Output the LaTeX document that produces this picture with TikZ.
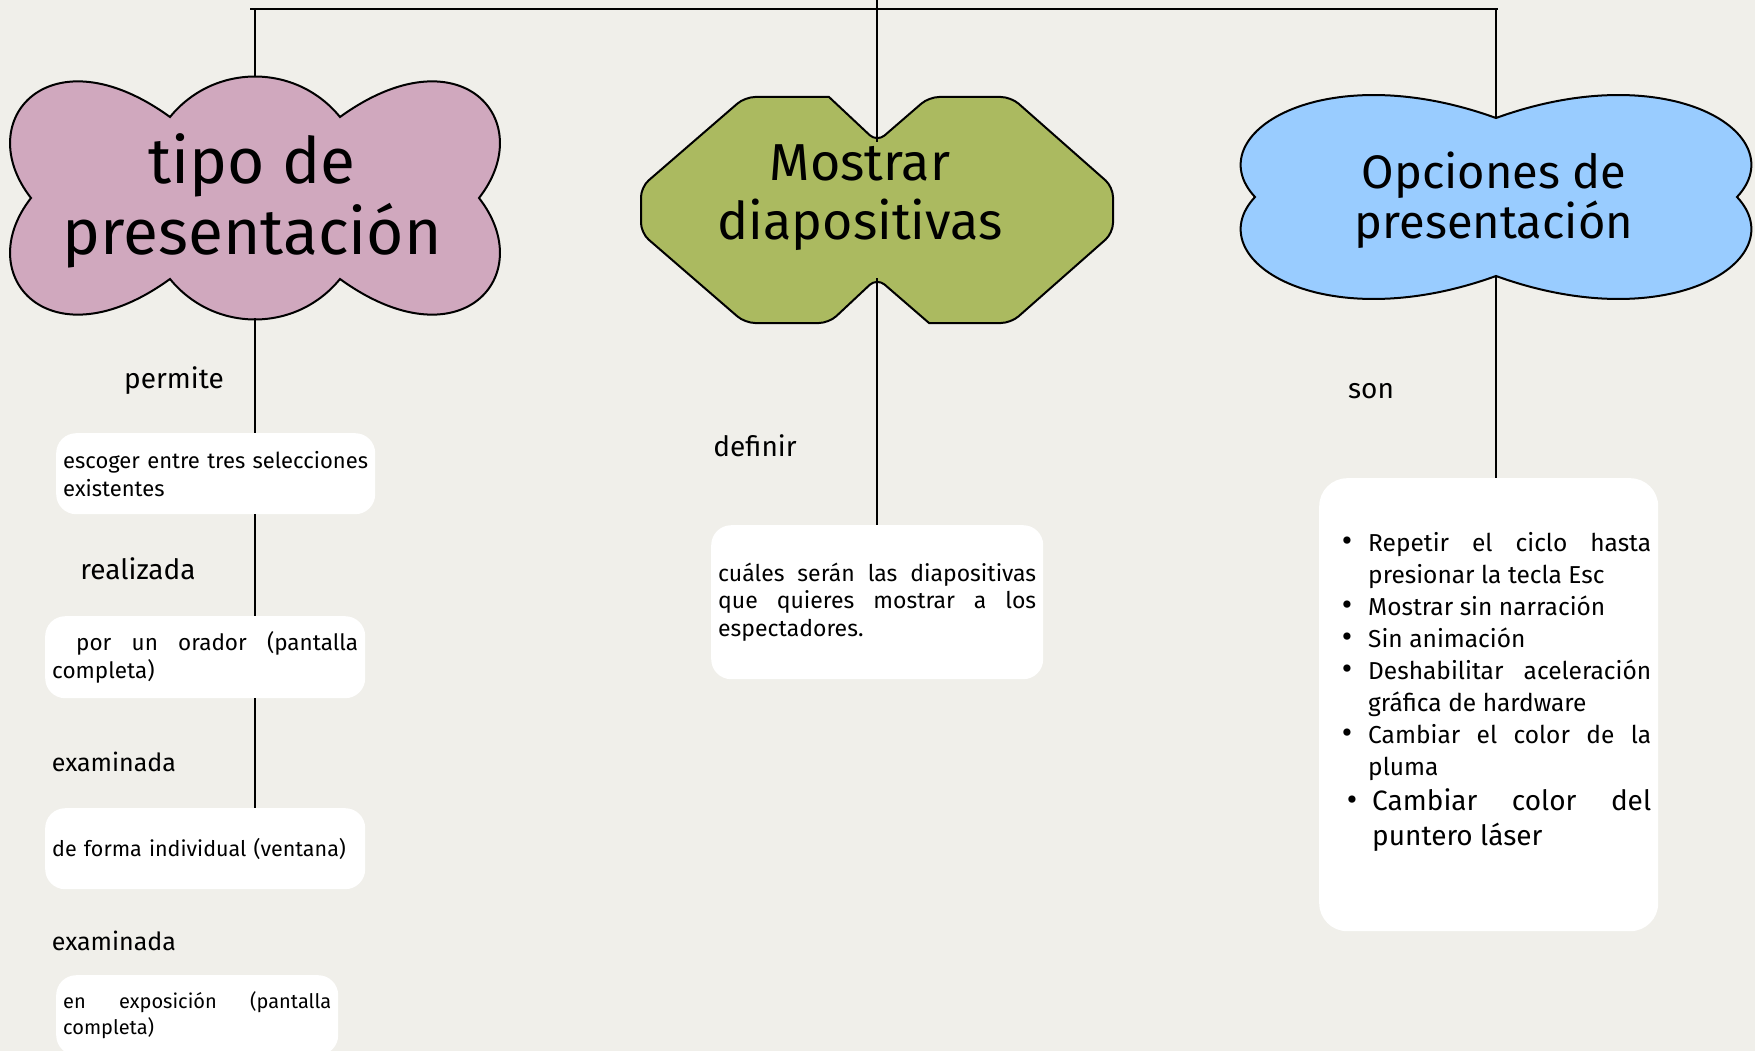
\documentclass[tikz,border=0pt]{standalone}
\usepackage{fontspec}
\setmainfont{Fira Sans}
\definecolor{paper}{HTML}{F0EFEA}
\definecolor{cloudpink}{HTML}{D0A8BE}
\definecolor{shapegreen}{HTML}{ABBA60}
\definecolor{cloudblue}{HTML}{99CCFF}
\hyphenpenalty=10000
\exhyphenpenalty=10000
\newcommand{\dotitem}[1]{\leavevmode\llap{{\fontsize{32}{32}\selectfont\textbullet}\hspace{#1}}}
\begin{document}
\begin{tikzpicture}
      [
      x=1pt, y=-1pt,
      card/.style={fill=white,rounded corners=20pt,inner xsep=7pt,inner ysep=3pt,anchor=north west},
      word/.style={anchor=base,inner sep=0pt},
      link/.style={line width=1.6pt},
      blob/.style={draw,line width=2pt}
      ]
      \fill[paper] (0,0) rectangle (1755,1051);
      \clip (0,0) rectangle (1755,1051);
      % three heads
      \draw[blob,fill=cloudpink] (31,198) .. controls (-30,120) and (50,30) .. (170,117)
        .. controls (214,63) and (296,63) .. (340,117)
        .. controls (460,30) and (540,120) .. (479,198)
        .. controls (540,276) and (460,366) .. (340,279)
        .. controls (296,333) and (214,333) .. (170,279)
        .. controls (50,366) and (-30,276) .. cycle;
      \draw[blob,fill=shapegreen] (641,210) [rounded corners=10pt] -- (641,233) -- (745,323) -- (829,323)
        -- (877,278) [sharp corners] -- (929,323) [rounded corners=10pt] -- (1011,323) -- (1113,233)
        -- (1113,187) -- (1011,97) -- (929,97) -- (877,142) [sharp corners] -- (829,97)
        [rounded corners=10pt] -- (745,97) -- (641,187) -- cycle;
      \draw[blob,fill=cloudblue] (1255,197) .. controls (1197,135) and (1322,55) .. (1496,118)
        .. controls (1670,55) and (1795,135) .. (1737,197)
        .. controls (1795,259) and (1670,339) .. (1496,276)
        .. controls (1322,339) and (1197,259) .. cycle;
      \node (tipo) at (252,201) [align=center,font=\fontsize{64}{71}\selectfont] {tipo de\\presentación};
      \node (mostrar) at (860,198) [align=center,font=\fontsize{52}{59}\selectfont] {Mostrar\\diapositivas};
      \node (opciones) at (1494,200) [align=center,font=\fontsize{47}{50}\selectfont] {Opciones de\\presentación};
      \coordinate (tipoN) at (255,77);
      \coordinate (tipoS) at (255,318);
      \coordinate (mostrarN) at (877,142);
      \coordinate (mostrarS) at (877,278);
      \coordinate (opcionesN) at (1496,118);
      \coordinate (opcionesS) at (1496,276);
      \coordinate (barL) at (250,9);
      \coordinate (barR) at (1498,9);
      \coordinate (barTop) at (877,0);
      % boxes
      \node (escoger) at (56,433) [card,minimum width=319pt,minimum height=81pt,text width=305pt,align=left,
        font=\fontsize{22}{28}\selectfont] {escoger entre tres selecciones\\existentes};
      \node (orador) at (45,616) [card,minimum width=320pt,minimum height=82pt,text width=306pt,align=justify,
        font=\fontsize{22.5}{28}\selectfont] {\hspace*{24pt}por un orador (pantalla\linebreak completa)};
      \node (individual) at (45,808) [card,minimum width=320pt,minimum height=81pt,text width=306pt,align=left,
        font=\fontsize{21.5}{28}\selectfont] {de forma individual (ventana)};
      \node (exposicion) at (56,975) [card,minimum width=282pt,minimum height=80pt,text width=268pt,align=justify,
        font=\fontsize{20}{26}\selectfont] {en exposición (pantalla\linebreak completa)};
      \node (cuales) at (711,525) [card,minimum width=332pt,minimum height=154pt,text width=318pt,align=justify,
        font=\fontsize{23}{27.5}\selectfont] {cuáles serán las diapositivas\linebreak que quieres mostrar a los\linebreak espectadores.};
      \node (lista) at (1319,478) [card,rounded corners=28pt,minimum width=339pt,minimum height=453pt,text width=325pt,align=justify,
        font=\fontsize{24.5}{32}\selectfont] {\leftskip=42pt
        \dotitem{16pt}Repetir el ciclo hasta\linebreak presionar la tecla Esc\par
        \dotitem{16pt}Mostrar sin narración\par
        \dotitem{16pt}Sin animación\par
        \dotitem{16pt}Deshabilitar aceleración\linebreak gráfica de hardware\par
        \dotitem{16pt}Cambiar el color de la\linebreak pluma\par
        {\fontsize{28}{35}\selectfont\leftskip=46pt
        \dotitem{15pt}Cambiar color del\linebreak puntero láser\par}
        \hbox{\vrule width 0pt height 24pt depth 0pt}};
      % linking words
      \node (permite) at (174,388) [word,font=\fontsize{28}{32}\selectfont] {permite};
      \node (realizada) at (138,579) [word,font=\fontsize{28}{32}\selectfont] {realizada};
      \node (examinada) at (114,771) [word,font=\fontsize{25}{30}\selectfont] {examinada};
      \node (examinadab) at (114,950) [word,font=\fontsize{25}{30}\selectfont] {examinada};
      \node (definir) at (755,456) [word,font=\fontsize{28}{32}\selectfont] {definir};
      \node (son) at (1371,398) [word,font=\fontsize{28}{32}\selectfont] {son};
      % lines
      \draw [link] (barL) to (barR);
      \draw [link] (tipoN |- barL) to (tipoN);
      \draw [link] (barTop) to (mostrarN);
      \draw [link] (opcionesN |- barR) to (opcionesN);
      \draw [link] (tipoS) to (tipoS |- escoger.north);
      \draw [link] (tipoS |- escoger.south) to (tipoS |- orador.north);
      \draw [link] (tipoS |- orador.south) to (tipoS |- individual.north);
      \draw [link] (mostrarS) to (mostrarS |- cuales.north);
      \draw [link] (opcionesS) to (opcionesS |- lista.north);
\end{tikzpicture}
\end{document}
